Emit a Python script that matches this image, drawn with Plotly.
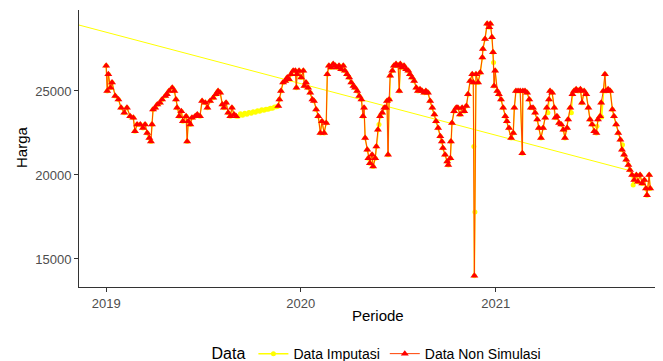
import pandas as pd
import plotly.graph_objects as go

# ---- Data ----
dates_obs_2019 = ["2019-01-01","2019-01-03","2019-01-05","2019-01-09","2019-01-12","2019-01-18","2019-01-24","2019-01-29","2019-02-04","2019-02-09",
                  "2019-02-15","2019-02-21","2019-02-24","2019-02-28","2019-03-06","2019-03-11","2019-03-15","2019-03-19","2019-03-23","2019-03-26",
                  "2019-03-28","2019-03-30","2019-04-03","2019-04-07","2019-04-12","2019-04-16","2019-04-22","2019-04-25","2019-04-29","2019-05-05",
                  "2019-05-09","2019-05-12","2019-05-14","2019-05-18","2019-05-22","2019-05-25","2019-05-31","2019-06-02","2019-06-04","2019-06-08",
                  "2019-06-11","2019-06-17","2019-06-21","2019-06-26","2019-06-30","2019-07-06","2019-07-10","2019-07-15","2019-07-21","2019-07-26",
                  "2019-07-30","2019-08-03","2019-08-07","2019-08-10","2019-08-14","2019-08-18","2019-08-22","2019-08-25","2019-08-29","2019-09-02"]
harga_obs_2019 = [26500,25000,26000,25200,25500,24700,24500,24000,23700,24000,
                  23500,23400,22600,23000,23000,22800,23000,22500,22200,22000,
                  23000,23900,24000,24200,24300,24500,24700,24800,25000,25200,
                  25000,24500,24000,23500,23800,23200,23500,22000,23200,23000,
                  23400,23500,23600,23500,24400,24300,24000,24400,24600,24800,
                  25000,24900,24200,24000,24300,23700,23500,24000,23600,23500]

dates_obs_2020 = ["2019-11-20","2019-11-22","2019-11-25","2019-11-29","2019-12-03","2019-12-07","2019-12-10","2019-12-14","2019-12-18","2019-12-22",
                  "2019-12-24","2019-12-25","2019-12-29","2020-01-02","2020-01-06","2020-01-08","2020-01-11","2020-01-15","2020-01-19","2020-01-23",
                  "2020-01-26","2020-01-30","2020-02-03","2020-02-07","2020-02-10","2020-02-14","2020-02-18","2020-02-20","2020-02-23","2020-02-27",
                  "2020-03-02","2020-03-06","2020-03-09","2020-03-13","2020-03-17","2020-03-21","2020-03-24","2020-03-28","2020-04-01","2020-04-05",
                  "2020-04-09","2020-04-12","2020-04-16","2020-04-20","2020-04-24","2020-04-27","2020-04-29","2020-05-01","2020-05-05","2020-05-07",
                  "2020-05-10","2020-05-14","2020-05-16","2020-05-20","2020-05-22","2020-05-25","2020-05-29","2020-06-02","2020-06-06","2020-06-09",
                  "2020-06-11","2020-06-13","2020-06-15","2020-06-17","2020-06-21","2020-06-24","2020-06-28","2020-07-02","2020-07-04","2020-07-06",
                  "2020-07-09","2020-07-13","2020-07-17","2020-07-21","2020-07-24","2020-07-28","2020-08-01","2020-08-05","2020-08-08","2020-08-12",
                  "2020-08-16","2020-08-20","2020-08-23","2020-08-27","2020-08-31","2020-09-04","2020-09-08","2020-09-11","2020-09-15","2020-09-19",
                  "2020-09-22","2020-09-24","2020-09-28","2020-10-02","2020-10-04","2020-10-08","2020-10-09","2020-10-11","2020-10-15","2020-10-19",
                  "2020-10-22","2020-10-26","2020-10-30","2020-11-03","2020-11-07","2020-11-10","2020-11-14","2020-11-18","2020-11-20","2020-11-22",
                  "2020-11-25","2020-11-29","2020-12-03","2020-12-07","2020-12-08","2020-12-12","2020-12-16","2020-12-20","2020-12-22","2020-12-25",
                  "2020-12-27","2020-12-29","2020-12-31","2021-01-04","2021-01-07","2021-01-11","2021-01-15","2021-01-19","2021-01-22","2021-01-26",
                  "2021-01-30","2021-02-03","2021-02-05","2021-02-08","2021-02-12","2021-02-16","2021-02-20","2021-02-21","2021-02-25","2021-03-01",
                  "2021-03-05","2021-03-08","2021-03-12","2021-03-16","2021-03-20","2021-03-23","2021-03-27","2021-03-31","2021-04-04","2021-04-07",
                  "2021-04-11","2021-04-13","2021-04-17","2021-04-21","2021-04-23","2021-04-26","2021-04-30","2021-05-04","2021-05-08","2021-05-11",
                  "2021-05-15","2021-05-17","2021-05-21","2021-05-25","2021-05-28","2021-06-01","2021-06-05","2021-06-09","2021-06-12","2021-06-16",
                  "2021-06-20","2021-06-24","2021-06-27","2021-07-01","2021-07-05","2021-07-09","2021-07-12","2021-07-16","2021-07-18","2021-07-22",
                  "2021-07-25","2021-07-27","2021-07-31","2021-08-04","2021-08-08","2021-08-11","2021-08-15","2021-08-19","2021-08-23","2021-08-26",
                  "2021-08-30","2021-09-03","2021-09-07","2021-09-10","2021-09-14","2021-09-18","2021-09-22","2021-09-25","2021-09-29","2021-10-03",
                  "2021-10-07","2021-10-10","2021-10-12","2021-10-16","2021-10-18"]
harga_obs_2020 = [24100,24500,25000,25500,25600,25800,25700,26000,26200,26200,
                  25200,26000,26200,25800,26200,25300,25500,25200,24900,24500,
                  24400,23900,23500,22500,23200,22500,23100,26000,26500,26400,
                  26600,26500,26400,26500,26300,26500,26200,26000,25800,25500,
                  25300,25200,25000,24700,24500,23500,24000,22200,21500,21000,
                  20700,21200,20500,21000,21700,22700,23500,23700,24000,24000,
                  24400,21200,24500,25900,26200,26500,26600,26500,25000,26600,
                  26400,26500,26300,26200,26000,25800,25600,25200,25000,25100,
                  25000,24900,25000,24900,24400,24000,23600,23200,22800,22300,
                  22000,21600,21200,20800,20600,21000,22000,23100,23800,24000,
                  24000,23600,24000,23800,24100,24800,25600,26000,25500,14000,
                  26000,25500,26100,27000,27500,28100,29000,28800,29000,28200,
                  27300,25300,26200,25000,24800,24500,24000,23500,23200,22800,
                  22200,22500,24000,25000,25000,25000,21300,25000,25000,24900,
                  24500,24000,24000,23700,23300,22800,22200,22800,23400,24000,
                  24500,25000,24900,24000,23400,23500,23100,23000,22700,22200,
                  22800,23300,24000,24800,25000,25100,25000,25100,24300,25000,
                  24800,24000,23300,23000,22600,22500,23300,23500,24300,25000,
                  26000,25000,25100,25000,23900,23500,23000,22500,22100,21500,
                  21200,20900,20600,20300,20000,19700,20000,19600,20000,19500,
                  19700,19200,18800,20000,19200]

# imputed values (gap 2019 and isolated imputed days)
dates_imp_gap = ["2019-09-06","2019-09-10","2019-09-14","2019-09-18","2019-09-22","2019-09-26","2019-09-30","2019-10-04","2019-10-08","2019-10-12",
                 "2019-10-16","2019-10-20","2019-10-24","2019-10-28","2019-11-01","2019-11-05","2019-11-09","2019-11-13","2019-11-17"]
harga_imp_gap = [23500,23650,23560,23680,23620,23720,23670,23770,23740,23820,
                 23800,23880,23860,23920,23920,23980,23980,24040,24060]
dates_imp_extra = ["2020-05-27","2020-06-16","2020-11-21","2020-11-23","2020-12-28","2021-04-09","2021-05-23","2021-07-10","2021-07-19","2021-08-27","2021-09-16"]
harga_imp_extra = [23000,24500,21700,17800,26700,23700,23700,22900,23450,21800,19400]

# long straight imputation segment
dates_imp_line = ["2018-10-01", "2021-09-05"]
harga_imp_line = [29270, 20300]

tick_dates = ["2019-01-01", "2020-01-01", "2021-01-01"]
tick_years = ["2019", "2020", "2021"]
y_ticks = [15000, 20000, 25000]

# ---- Build series ----
assert len(dates_obs_2019) == len(harga_obs_2019)
assert len(dates_obs_2020) == len(harga_obs_2020)
assert len(dates_imp_gap) == len(harga_imp_gap)

red_x = dates_obs_2019 + [None] + dates_obs_2020
red_y = harga_obs_2019 + [None] + harga_obs_2020

imp = pd.DataFrame({
    "tanggal": pd.to_datetime(dates_obs_2019 + dates_obs_2020 + dates_imp_gap + dates_imp_extra),
    "harga": harga_obs_2019 + harga_obs_2020 + harga_imp_gap + harga_imp_extra,
}).sort_values("tanggal")

YELLOW = "#FFFF00"
RED = "#FF0000"

fig = go.Figure()
fig.add_trace(go.Scatter(x=dates_imp_line, y=harga_imp_line, mode="lines",
                         line=dict(color=YELLOW, width=1), showlegend=False, hoverinfo="skip"))
fig.add_trace(go.Scatter(x=imp["tanggal"], y=imp["harga"], mode="lines+markers", name="Data Imputasi",
                         line=dict(color=YELLOW, width=1.5),
                         marker=dict(symbol="circle", size=5, color=YELLOW)))
fig.add_trace(go.Scatter(x=red_x, y=red_y, mode="lines+markers", name="Data Non Simulasi",
                         line=dict(color="#FF4000", width=1),
                         marker=dict(symbol="triangle-up", size=7, color=RED),
                         connectgaps=False))

axis_common = dict(showline=True, linecolor="#333333", linewidth=1, ticks="outside", ticklen=4,
                   tickcolor="#333333", tickfont=dict(size=13, color="#4D4D4D"),
                   showgrid=False, zeroline=False)

fig.update_xaxes(range=["2018-11-11", "2021-11-11"], tickvals=tick_dates, ticktext=tick_years, **axis_common)
fig.update_yaxes(range=[13333, 29821], tickvals=y_ticks, ticktext=[str(v) for v in y_ticks], **axis_common)

# the page body has an 8px default margin, so the figure is drawn 8px smaller
fig.update_layout(
    width=655, height=353,
    margin=dict(l=71, r=0, t=2, b=74, autoexpand=False),
    plot_bgcolor="white", paper_bgcolor="white",
    font=dict(family="Liberation Sans, Arial, sans-serif", color="black"),
    legend=dict(orientation="h", x=0.512, xanchor="center", y=-0.242, yanchor="middle",
                title=dict(text="Data", font=dict(size=16, color="black"), side="left"),
                font=dict(size=14, color="black"), bgcolor="rgba(0,0,0,0)"),
    annotations=[
        dict(text="Harga", xref="paper", yref="paper", x=(21 - 79) / 584, y=(287 - 147) / 277,
             textangle=-90, showarrow=False, xanchor="center", yanchor="middle",
             font=dict(size=15, color="black")),
        dict(text="Periode", xref="paper", yref="paper", x=(378 - 79) / 584, y=(287 - 315) / 277,
             showarrow=False, xanchor="center", yanchor="middle",
             font=dict(size=15, color="black")),
    ],
)

fig.write_html("out.html")
